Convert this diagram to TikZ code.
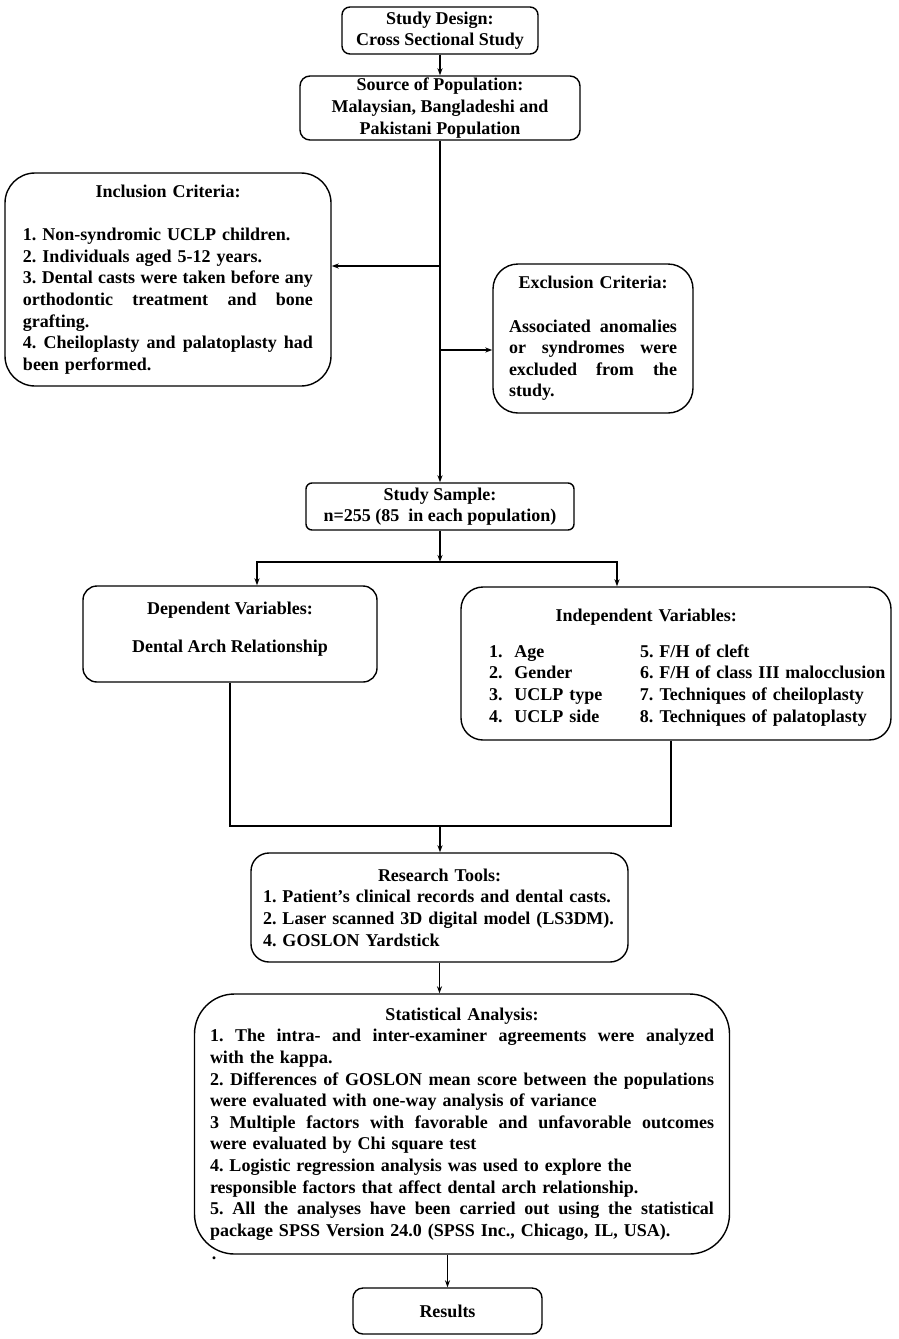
\documentclass[tikz,border=0pt]{standalone}
\usepackage{fontspec}
\setmainfont{Liberation Serif}
\usetikzlibrary{arrows.meta}

\newcommand{\jline}[1]{\leavevmode\hbox to \hsize{\spaceskip=0.25em plus 1fil minus 0.05em\relax #1}}
\newcommand{\ctitle}[1]{\makebox[\hsize]{#1}}

\begin{document}
\begin{tikzpicture}[x=1pt, y=-1pt, >={Stealth[length=7pt, width=5pt]},
    box/.style={draw, line width=1.4pt, rounded corners=#1, inner sep=0pt,
        font=\fontsize{18}{21.6}\selectfont\bfseries\frenchspacing},
    box/.default=8pt, link/.style={line width=1.2pt}]
        \useasboundingbox (0,0) rectangle (898,1339);

        \node [box=8pt, minimum width=196, minimum height=47, align=center] (design) at (440,30.5) {Study Design:\\Cross Sectional Study};
        \node [box=10pt, minimum width=280, minimum height=64, align=center] (source) at (440,108) {Source of Population:\\Malaysian, Bangladeshi and\\Pakistani Population};

        \node [box=30pt, minimum width=326, minimum height=213, text width=290, align=left] (incl) at (168,279.5) {\ctitle{Inclusion Criteria:}\\[21.6pt]
            1. Non-syndromic UCLP children.\\
            2. Individuals aged 5-12 years.\\
            \jline{3. Dental casts were taken before any}\\
            \jline{orthodontic treatment and bone}\\
            grafting.\\
            \jline{4. Cheiloplasty and palatoplasty had}\\
            been performed.};
        \node [box=25pt, minimum width=200, minimum height=149, text width=168, align=left] (excl) at (593,338.5) {\ctitle{Exclusion Criteria:}\\[21.6pt]
            \jline{Associated anomalies}\\
            \jline{or syndromes were}\\
            \jline{excluded from the}\\
            study.};

        \node [box=6pt, minimum width=268, minimum height=47, align=center] (sample) at (440,506.5) {Study Sample:\\n=255 (85\ \ in each population)};

        \node [box=14pt, minimum width=294, minimum height=96, align=center] (dep) at (230,634) {Dependent Variables:\\[16pt]Dental Arch Relationship\rule[-14pt]{0pt}{14pt}};
        \node [box=22pt, minimum width=430, minimum height=153, text width=400, align=left] (indep) at (676,663.5) {\hspace*{79.5pt}\rule{0pt}{23pt}Independent Variables:\\[14.4pt]
            \hspace*{13pt}\begin{tabular}[t]{@{}l@{}l@{}}
                \makebox[151pt][l]{1.\hspace{12pt}Age} & 5. F/H of cleft\\
                \makebox[151pt][l]{2.\hspace{12pt}Gender} & 6. F/H of class III malocclusion\\
                \makebox[151pt][l]{3.\hspace{12pt}UCLP type} & 7. Techniques of cheiloplasty\\
                \makebox[151pt][l]{4.\hspace{12pt}UCLP side} & 8. Techniques of palatoplasty
            \end{tabular}};

        \node [box=18pt, minimum width=377, minimum height=109, text width=353, align=left] (tools) at (439.5,907.5) {\ctitle{Research Tools:}\\
            1. Patient’s clinical records and dental casts.\\
            2. Laser scanned 3D digital model (LS3DM).\\
            4. GOSLON Yardstick};

        \node [box=40pt, minimum width=535, minimum height=260, text width=504, align=left] (stats) at (462,1124) {\ctitle{Statistical Analysis:}\\
            \jline{1. The intra- and inter-examiner agreements were analyzed}\\
            with the kappa.\\
            \jline{2. Differences of GOSLON mean score between the populations}\\
            were evaluated with one-way analysis of variance\\
            \jline{3 Multiple factors with favorable and unfavorable outcomes}\\
            were evaluated by Chi square test\\
            4. Logistic regression analysis was used to explore the\\
            responsible factors that affect dental arch relationship.\\
            \jline{5. All the analyses have been carried out using the statistical}\\
            package SPSS Version 24.0 (SPSS Inc., Chicago, IL, USA).};
        \node [font=\fontsize{18}{21.6}\selectfont\bfseries, inner sep=0pt] (dot) at (214,1258) {.};

        \node [box=10pt, minimum width=189, minimum height=46] (results) at (447.5,1311) {Results};

        \coordinate (incl-in) at (440,266);
        \coordinate (excl-in) at (440,350);
        \coordinate (split) at (440,562);
        \coordinate (merge) at (440,826);

        \draw [->, link] (design) -- (source);
        \draw [->, link] (source) -- (sample);
        \draw [->, link] (incl-in) -- (incl-in -| incl.east);
        \draw [->, link] (excl-in) -- (excl-in -| excl.west);
        \draw [->, link] (sample) -- (split);
        \draw [->, link] (split) -| ([xshift=27pt]dep.north);
        \draw [->, link] (split) -| ([xshift=-59pt]indep.north);
        \draw [link] (dep.south) |- (merge);
        \draw [link] ([xshift=-5pt]indep.south) |- (merge);
        \draw [->, link] (merge) -- (merge |- tools.north);
        \draw [->, link] (tools.south) -- (tools.south |- stats.north);
        \draw [->, link] (results.north |- stats.south) -- (results.north);
    \end{tikzpicture}
\end{document}
